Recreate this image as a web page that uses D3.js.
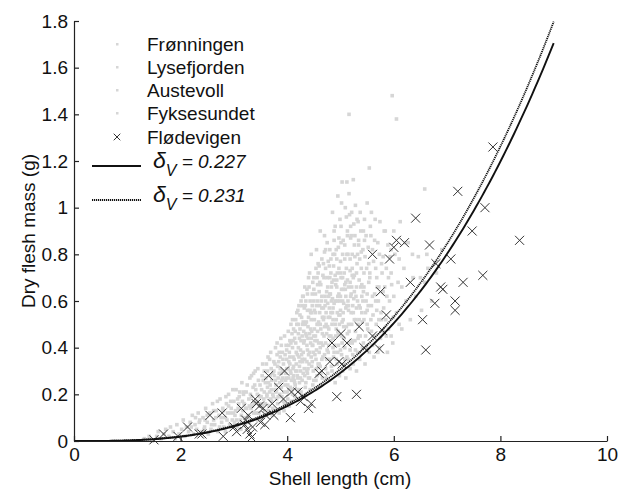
<!DOCTYPE html>
<html>
<head>
<meta charset="utf-8">
<script src="https://cdn.jsdelivr.net/npm/d3@7"></script>
<style>
  body { margin: 0; background: #fff; }
  svg { font-family: "Liberation Sans", Arial, sans-serif; }
</style>
</head>
<body>
<svg></svg>
<script>
var width = 630;
var height = 490;

// shell length (cm), dry flesh mass (g)
var fronningen = [
  [4.12,0.48],[4.22,0.58],[4.3,0.51],[4.38,0.63],[4.44,0.55],[4.5,0.6],[4.56,0.7],[4.6,0.64],[4.65,0.78],[4.68,0.57],
  [4.72,0.74],[4.76,0.66],[4.8,0.82],[4.83,0.6],[4.87,0.75],[4.9,0.92],[4.93,0.69],[4.96,0.83],[5.0,0.72],[5.02,1.02],
  [5.05,0.86],[5.08,0.67],[5.11,0.96],[5.14,0.8],[5.16,1.06],[5.19,0.87],[5.22,0.71],[5.25,0.93],[5.28,1.01],[5.31,0.76],
  [5.34,0.86],[5.37,0.98],[5.4,0.67],[5.42,0.82],[5.45,0.95],[5.48,0.6],[5.52,0.83],[5.55,0.72],[5.58,0.98],[5.61,0.54],
  [5.64,0.86],[5.68,0.7],[5.71,0.6],[5.74,0.94],[5.77,0.52],[5.8,0.79],[5.83,0.66],[5.86,0.45],[5.89,0.84],[5.92,0.6],
  [5.95,0.72],[5.98,0.42],[6.02,0.8],[6.05,0.55],[6.08,0.68],[6.12,0.94],[6.15,0.48],[6.19,0.74],[6.23,0.6],[6.27,0.85],
  [6.31,0.52],[6.36,0.7],[6.41,0.62],[6.46,0.79],[6.52,0.56],[6.58,0.68],[6.64,0.74],[6.71,0.6],[6.8,0.72],[6.9,0.82],
  [5.03,1.11],[5.12,1.11],[5.54,1.17],[5.16,1.40],[5.97,1.48],[6.05,1.38],[6.58,1.08],[4.62,0.9],[4.85,0.98],[5.24,1.12],
  [4.45,0.8],[4.95,1.05],
  [4.75,0.85],[4.82,0.72],[4.88,0.9],[4.93,0.78],[4.99,0.95],[5.04,0.8],[5.09,1.0],[5.13,0.9],[5.18,0.78],[5.21,0.98],
  [5.27,0.88],[5.33,0.94],[5.36,0.78],[5.43,0.9],[5.5,1.02],[5.57,0.88],[5.65,0.95],[5.73,0.8],[5.82,0.9],[6.0,0.9],
  [6.1,0.78],[6.22,0.85],[6.35,0.8],[6.5,0.7],[6.62,0.8],[4.55,0.82],[4.7,0.88],[4.4,0.7],[4.3,0.62],[4.58,0.76]
];
var lysefjorden = [
  [2.84,0.04],[2.93,0.12],[3.01,0.08],[3.07,0.18],[3.13,0.05],[3.18,0.2],[3.24,0.14],[3.29,0.08],[3.33,0.19],[3.37,0.29],
  [3.41,0.17],[3.45,0.09],[3.49,0.24],[3.53,0.15],[3.57,0.3],[3.61,0.11],[3.63,0.23],[3.67,0.35],[3.69,0.18],[3.71,0.26],
  [3.73,0.14],[3.77,0.33],[3.79,0.21],[3.81,0.42],[3.83,0.27],[3.85,0.12],[3.87,0.31],[3.89,0.23],[3.91,0.38],[3.93,0.17],
  [3.95,0.45],[3.97,0.29],[3.99,0.35],[4.01,0.24],[4.03,0.41],[4.04,0.15],[4.06,0.3],[4.07,0.5],[4.09,0.22],[4.11,0.36],
  [4.12,0.28],[4.14,0.44],[4.15,0.19],[4.17,0.33],[4.18,0.55],[4.2,0.27],[4.21,0.4],[4.23,0.32],[4.24,0.48],[4.26,0.21],
  [4.27,0.37],[4.29,0.62],[4.3,0.29],[4.32,0.43],[4.33,0.35],[4.35,0.25],[4.36,0.51],[4.38,0.39],[4.39,0.31],[4.41,0.66],
  [4.42,0.46],[4.43,0.22],[4.45,0.36],[4.46,0.55],[4.47,0.41],[4.49,0.3],[4.5,0.7],[4.51,0.48],[4.52,0.37],[4.54,0.26],
  [4.55,0.58],[4.56,0.43],[4.58,0.33],[4.59,0.51],[4.6,0.75],[4.62,0.4],[4.63,0.29],[4.64,0.6],[4.66,0.46],[4.67,0.36],
  [4.69,0.53],[4.7,0.81],[4.72,0.42],[4.73,0.27],[4.74,0.64],[4.76,0.49],[4.77,0.38],[4.79,0.57],[4.8,0.7],[4.82,0.45],
  [4.83,0.32],[4.85,0.61],[4.86,0.52],[4.88,0.86],[4.89,0.41],[4.91,0.67],[4.92,0.35],[4.94,0.55],[4.95,0.47],[4.97,0.74],
  [4.98,0.6],[5.0,0.39],[5.01,0.92],[5.03,0.51],[5.05,0.65],[5.06,0.44],[5.08,0.78],[5.1,0.57],[5.12,0.36],[5.13,0.69],
  [5.15,0.5],[5.17,0.97],[5.19,0.62],[5.2,0.43],[5.22,0.74],[5.24,0.55],[5.26,0.84],[5.28,0.47],[5.3,0.66],[5.32,0.38],
  [5.35,0.58],[5.38,0.9],[5.41,0.51],[5.44,0.72],[5.47,0.45],[5.5,0.63],
  [4.05,0.43],[4.1,0.52],[4.15,0.47],[4.2,0.56],[4.23,0.44],[4.26,0.6],[4.29,0.5],[4.32,0.57],[4.35,0.46],[4.37,0.65],
  [4.4,0.53],[4.43,0.6],[4.46,0.47],[4.48,0.68],[4.51,0.56],[4.53,0.63],[4.56,0.5],[4.58,0.72],[4.61,0.58],[4.63,0.67],
  [4.66,0.53],[4.68,0.76],[4.71,0.62],[4.73,0.55],[4.75,0.7],[4.78,0.48],[4.8,0.63],[4.82,0.78],[4.85,0.55],[4.87,0.69],
  [4.9,0.5],[4.92,0.82],[4.95,0.62],[4.97,0.54],[5.0,0.77],[5.02,0.65],[5.05,0.52],[5.07,0.72],[5.1,0.62],[5.12,0.8],
  [5.15,0.56],[5.18,0.68],[5.2,0.88],[5.23,0.58],[5.26,0.71],[5.29,0.62],[5.32,0.8],[5.35,0.52],[5.38,0.66],[5.42,0.6],
  [5.46,0.79],[5.5,0.56],[5.55,0.7],[5.6,0.62],[5.66,0.74],[5.72,0.52],[5.8,0.64],[5.9,0.7],[6.0,0.62],[6.15,0.66],
  [4.18,0.5],[4.24,0.54],[4.28,0.58],[4.33,0.66],[4.38,0.56],[4.42,0.72],[4.47,0.58],[4.5,0.65],[4.54,0.74],[4.57,0.6],
  [4.61,0.68],[4.65,0.62],[4.69,0.7],[4.72,0.82],[4.76,0.59],[4.79,0.75],[4.83,0.66],[4.86,0.8],[4.9,0.71],[4.94,0.6],
  [4.97,0.87],[5.01,0.7],[5.04,0.6],[5.08,0.84],[5.11,0.74],[5.15,0.66],[5.19,0.92],[5.22,0.8],[5.26,0.64],[5.3,0.72],
  [5.34,0.84],[5.39,0.74],[5.44,0.66],[5.48,0.88],[5.53,0.76],[5.6,0.82],[5.69,0.66],[5.77,0.76],[5.86,0.74],[5.95,0.82]
];
var austevoll = [
  [1.32,0.01],[1.41,0.02],[1.47,0.0],[1.55,0.02],[1.58,0.04],[1.63,0.01],[1.69,0.03],[1.72,0.05],[1.78,0.02],[1.81,0.06],
  [1.86,0.04],[1.9,0.01],[1.93,0.07],[1.97,0.03],[2.02,0.05],[2.05,0.09],[2.08,0.02],[2.11,0.06],[2.15,0.04],[2.18,0.08],
  [2.22,0.11],[2.24,0.03],[2.27,0.07],[2.3,0.05],[2.33,0.12],[2.36,0.09],[2.39,0.04],[2.42,0.1],[2.45,0.06],[2.47,0.14],
  [2.5,0.08],[2.52,0.03],[2.55,0.12],[2.57,0.05],[2.6,0.16],[2.62,0.09],[2.64,0.07],[2.67,0.13],[2.7,0.04],[2.72,0.11],
  [2.74,0.18],[2.77,0.08],[2.79,0.14],[2.81,0.06],[2.83,0.1],[2.86,0.16],[2.88,0.12],[2.9,0.2],[2.92,0.07],[2.95,0.14],
  [2.97,0.09],[3.0,0.17],[3.02,0.11],[3.04,0.22],[3.06,0.06],[3.08,0.14],[3.1,0.19],[3.12,0.09],[3.15,0.25],[3.17,0.13],
  [3.19,0.16],[3.21,0.07],[3.23,0.21],[3.26,0.11],[3.28,0.18],[3.3,0.27],[3.32,0.14],[3.34,0.09],[3.36,0.23],[3.38,0.16],
  [3.4,0.3],[3.42,0.12],[3.44,0.2],[3.46,0.26],[3.48,0.15],[3.5,0.1],[3.52,0.22],[3.54,0.33],[3.56,0.18],[3.58,0.13],
  [3.6,0.27],[3.62,0.2],[3.64,0.36],[3.66,0.15],[3.68,0.24],[3.7,0.31],[3.72,0.11],[3.74,0.19],[3.76,0.28],[3.78,0.4],
  [3.8,0.22],[3.82,0.16],[3.84,0.34],[3.86,0.25],[3.88,0.44],[3.9,0.19],[3.92,0.3],[3.94,0.13],[3.96,0.37],[3.98,0.27],
  [4.0,0.21],[4.02,0.47],[4.05,0.33],[4.08,0.17],[4.1,0.4],[4.13,0.26],[4.16,0.52],[4.19,0.22],[4.22,0.36],[4.25,0.3],
  [4.28,0.45],[4.31,0.19],[4.34,0.58],[4.37,0.34],[4.4,0.27],[4.44,0.42],[4.48,0.24],
  [2.58,0.07],[2.66,0.1],[2.73,0.06],[2.8,0.13],[2.87,0.09],[2.94,0.17],[2.99,0.12],[3.05,0.09],[3.09,0.16],[3.14,0.11],
  [3.18,0.21],[3.22,0.14],[3.27,0.1],[3.31,0.2],[3.35,0.15],[3.39,0.24],[3.43,0.17],[3.47,0.12],[3.51,0.19],[3.55,0.26],
  [3.59,0.16],[3.63,0.3],[3.67,0.21],[3.71,0.17],[3.75,0.34],[3.79,0.24],[3.83,0.19],[3.87,0.36],[3.91,0.27],[3.95,0.16],
  [3.99,0.39],[4.03,0.22],[4.07,0.42],[4.11,0.31],[4.15,0.24],[2.2,0.06],[2.35,0.08],[2.44,0.05],[2.28,0.1],[2.5,0.11],
  [3.03,0.13],[3.11,0.21],[3.16,0.17],[3.2,0.1],[3.25,0.24],[3.29,0.15],[3.33,0.28],[3.37,0.12],[3.41,0.22],[3.45,0.31],
  [3.49,0.19],[3.53,0.28],[3.57,0.21],[3.61,0.33],[3.65,0.25],[3.69,0.38],[3.73,0.29],[3.77,0.22],[3.81,0.37],[3.85,0.29],
  [3.89,0.41],[3.93,0.33],[3.97,0.26],[2.62,0.13],[2.69,0.17],[2.76,0.1],[2.85,0.19],[2.9,0.15],[2.98,0.22],[2.46,0.09]
];
var fyksesundet = [
  [3.52,0.16],[3.59,0.25],[3.65,0.13],[3.7,0.22],[3.75,0.3],[3.8,0.18],[3.85,0.38],[3.9,0.26],[3.94,0.21],[3.98,0.41],
  [4.02,0.31],[4.04,0.38],[4.06,0.23],[4.09,0.46],[4.11,0.27],[4.13,0.35],[4.16,0.42],[4.18,0.3],[4.21,0.5],[4.23,0.25],
  [4.25,0.39],[4.27,0.53],[4.29,0.34],[4.31,0.47],[4.33,0.28],[4.35,0.6],[4.37,0.41],[4.39,0.49],[4.41,0.33],[4.43,0.56],
  [4.45,0.44],[4.47,0.63],[4.49,0.38],[4.51,0.52],[4.53,0.45],[4.55,0.31],[4.57,0.67],[4.59,0.42],[4.61,0.55],[4.63,0.48],
  [4.65,0.35],[4.67,0.71],[4.69,0.45],[4.71,0.58],[4.73,0.5],[4.75,0.39],[4.77,0.77],[4.78,0.62],[4.8,0.53],[4.82,0.43],
  [4.84,0.68],[4.86,0.57],[4.87,0.36],[4.89,0.8],[4.9,0.6],[4.92,0.48],[4.94,0.72],[4.96,0.41],[4.97,0.63],[4.99,0.54],
  [5.01,0.85],[5.02,0.45],[5.04,0.7],[5.06,0.59],[5.07,0.33],[5.09,0.65],[5.11,0.49],[5.13,0.88],[5.14,0.6],[5.16,0.42],
  [5.18,0.73],[5.2,0.55],[5.21,0.66],[5.23,0.37],[5.25,0.61],[5.27,0.79],[5.29,0.52],[5.31,0.95],[5.33,0.44],[5.35,0.69],
  [5.37,0.57],[5.39,0.81],[5.41,0.4],[5.43,0.64],[5.45,0.86],[5.47,0.55],[5.49,0.74],[5.51,0.48],[5.53,0.68],[5.56,0.92],
  [5.58,0.58],[5.6,0.41],[5.62,0.77],[5.64,0.63],[5.67,0.5],[5.7,0.85],[5.72,0.66],[5.75,0.44],[5.78,0.72],[5.81,0.57],
  [5.84,0.9],[5.87,0.62],[5.9,0.48],[5.93,0.79],[5.96,0.67],[5.99,0.53],
  [3.62,0.19],[3.68,0.28],[3.73,0.2],[3.78,0.26],[3.82,0.32],[3.86,0.2],[3.89,0.29],[3.92,0.35],[3.96,0.24],[3.99,0.31],
  [4.01,0.18],[4.03,0.27],[4.05,0.36],[4.07,0.29],[4.1,0.2],[4.12,0.32],[4.14,0.25],[4.17,0.38],[4.19,0.28],[4.22,0.22],
  [4.24,0.34],[4.26,0.43],[4.28,0.26],[4.3,0.38],[4.32,0.31],[4.34,0.23],[4.36,0.45],[4.38,0.29],[4.4,0.37],[4.42,0.27],
  [4.44,0.48],[4.46,0.32],[4.48,0.41],[4.5,0.26],[4.52,0.43],[4.54,0.35],[4.56,0.28],[4.58,0.5],[4.6,0.38],[4.62,0.32],
  [4.64,0.42],[4.66,0.27],[4.68,0.52],[4.7,0.37],[4.72,0.31],[4.74,0.46],[4.76,0.29],[4.78,0.41],[4.8,0.35],[4.82,0.55],
  [4.84,0.3],[4.86,0.44],[4.88,0.38],[4.9,0.25],[4.92,0.52],[4.94,0.33],[4.96,0.46],[4.98,0.28],[5.0,0.56],[5.02,0.37],
  [5.04,0.3],[5.06,0.49],[5.08,0.4],[5.1,0.27],[5.12,0.58],[5.14,0.35],[5.16,0.47],[5.18,0.31],[5.2,0.63],[5.22,0.42],
  [5.24,0.33],[5.26,0.52],[5.28,0.39],[5.3,0.3],[5.32,0.6],[5.34,0.45],[5.36,0.35],[5.4,0.55],[5.43,0.42],[5.46,0.33],
  [5.5,0.5],[5.54,0.38],[5.58,0.47],[5.63,0.36],[5.68,0.56],[5.73,0.4],[5.8,0.47],[5.88,0.38],[5.95,0.45],[6.1,0.5],
  [4.03,0.34],[4.08,0.26],[4.11,0.43],[4.16,0.3],[4.19,0.37],[4.21,0.46],[4.25,0.27],[4.28,0.35],[4.31,0.42],[4.34,0.5],
  [4.37,0.3],[4.39,0.44],[4.42,0.38],[4.45,0.52],[4.47,0.34],[4.5,0.45],[4.53,0.55],[4.55,0.39],[4.57,0.47],[4.6,0.33],
  [4.62,0.5],[4.65,0.57],[4.67,0.41],[4.7,0.49],[4.72,0.6],[4.74,0.35],[4.77,0.53],[4.79,0.45],[4.81,0.63],[4.84,0.5],
  [4.86,0.4],[4.88,0.59],[4.91,0.45],[4.93,0.66],[4.95,0.38],[4.98,0.5],[5.0,0.62],[5.03,0.42],[5.05,0.55],[5.08,0.35],
  [5.1,0.68],[5.13,0.46],[5.15,0.58],[5.18,0.39],[5.21,0.5],[5.24,0.7],[5.27,0.43],[5.3,0.57],[5.33,0.5],[5.37,0.45],
  [5.4,0.62],[5.44,0.52],[5.48,0.4],[5.52,0.58],[5.57,0.52],[5.62,0.45],[5.66,0.6],[5.7,0.38],[5.76,0.55],[5.85,0.52]
];
var flodevigen = [
  [1.5,0.005],[1.68,0.03],[1.95,0.02],[2.13,0.06],[2.35,0.03],[2.4,0.03],[2.55,0.11],[2.78,0.12],[2.8,0.02],[3.05,0.04],
  [3.0,0.06],[3.14,0.14],[3.2,0.07],[3.22,0.09],[3.25,0.05],[3.27,0.11],[3.3,0.03],[3.33,0.015],[3.35,0.06],[3.4,0.18],
  [3.42,0.16],[3.48,0.15],[3.5,0.08],[3.55,0.14],[3.58,0.07],[3.6,0.11],[3.65,0.28],[3.72,0.16],[3.75,0.11],[3.84,0.23],
  [3.93,0.18],[3.95,0.30],[4.06,0.10],[4.08,0.21],[4.2,0.21],[4.25,0.17],[4.3,0.19],[4.4,0.14],[4.45,0.16],[4.6,0.29],
  [4.65,0.30],[4.8,0.34],[4.84,0.42],[4.93,0.19],[4.97,0.34],[5.01,0.46],[5.03,0.33],[5.12,0.42],[5.3,0.2],[5.35,0.49],
  [5.44,0.40],[5.6,0.45],[5.6,0.80],[5.73,0.395],[5.75,0.64],[5.78,0.475],[5.86,0.54],[5.92,0.78],[6.0,0.83],[6.05,0.86],
  [6.2,0.85],[6.31,0.68],[6.41,0.955],[6.54,0.52],[6.6,0.39],[6.67,0.84],[6.77,0.59],[6.79,0.76],[6.88,0.66],[6.92,0.65],
  [7.07,0.78],[7.15,0.60],[7.15,0.56],[7.2,1.07],[7.3,0.68],[7.47,0.90],[7.67,0.71],[7.71,1.0],[7.86,1.26],[8.36,0.86]
];

var populations = ["Frønningen", "Lysefjorden", "Austevoll", "Fyksesundet"];
var deltaV = [0.227, 0.231];
var dV = 0.2; // g/cm^3
var xTicks = [0, 2, 4, 6, 8, 10];
var yTicks = [0, 0.2, 0.4, 0.6, 0.8, 1, 1.2, 1.4, 1.6, 1.8];
var yTickLabels = ["0", "0.2", "0.4", "0.6", "0.8", "1", "1.2", "1.4", "1.6", "1.8"];

var fontSize = 19;
var xScale = d3.scaleLinear().domain([0, 10]).range([74, 607]);
var yScale = d3.scaleLinear().domain([0, 1.8]).range([441, 21]);

var svg = d3.select("svg").attr("width", width).attr("height", height);

// gray clouds
var grey = [].concat(fronningen, lysefjorden, austevoll, fyksesundet);
svg.append("g")
  .selectAll("rect")
  .data(grey)
  .enter()
  .append("rect")
  .attr("x", (d) => xScale(d[0]) - 1.8)
  .attr("y", (d) => yScale(d[1]) - 1.8)
  .attr("width", 3.6)
  .attr("height", 3.6)
  .attr("fill", "#d6d6d6");

// Flødevigen crosses
var cross = d3.symbol().type(d3.symbolX).size(55);
svg.append("g")
  .selectAll("path")
  .data(flodevigen)
  .enter()
  .append("path")
  .attr("d", cross)
  .attr("transform", (d) => `translate(${xScale(d[0])},${yScale(d[1])})`)
  .attr("fill", "none")
  .attr("stroke", "#333")
  .attr("stroke-width", 1);

// model curves W = dV * (deltaV * L)^3
var lengths = d3.range(0, 9.001, 0.05);
var line = d3.line().x((d) => xScale(d[0])).y((d) => yScale(d[1]));
var curveStyles = [
  { dash: null, width: 1.9, color: "#111" },
  { dash: "1.2,0.8", width: 1.8, color: "#111" }
];
deltaV.forEach(function (dv, i) {
  svg.append("path")
    .attr("d", line(lengths.map((L) => [L, dV * Math.pow(dv * L, 3)])))
    .attr("fill", "none")
    .attr("stroke", curveStyles[i].color)
    .attr("stroke-width", curveStyles[i].width)
    .attr("stroke-dasharray", curveStyles[i].dash);
});

// axes
var xAxis = d3.axisBottom(xScale).tickValues(xTicks).tickSizeInner(-5).tickSizeOuter(0).tickPadding(7);
var yAxis = d3.axisLeft(yScale).tickValues(yTicks).tickFormat((d, i) => yTickLabels[i])
  .tickSizeInner(-5).tickSizeOuter(0).tickPadding(6);

var gx = svg.append("g").attr("transform", "translate(0,441)").call(xAxis);
var gy = svg.append("g").attr("transform", "translate(74,0)").call(yAxis);
[gx, gy].forEach(function (g) {
  g.selectAll("path, line").attr("stroke", "#222").attr("stroke-width", 1.2);
  g.selectAll("text").attr("font-size", fontSize).attr("fill", "#111").attr("font-family", "Liberation Sans, Arial, sans-serif");
});

svg.append("text")
  .attr("x", 340)
  .attr("y", 485)
  .attr("text-anchor", "middle")
  .attr("font-size", fontSize)
  .attr("fill", "#111")
  .text("Shell length (cm)");

svg.append("text")
  .attr("transform", "translate(35,231) rotate(-90)")
  .attr("text-anchor", "middle")
  .attr("font-size", fontSize)
  .attr("fill", "#111")
  .text("Dry flesh mass (g)");

// legend
var legend = svg.append("g");
var legendY = [44, 67, 90, 113, 137];
populations.forEach(function (name, i) {
  legend.append("rect")
    .attr("x", 116).attr("y", legendY[i] - 1).attr("width", 2.5).attr("height", 2.5)
    .attr("fill", "#d6d6d6");
  legend.append("text")
    .attr("x", 147).attr("y", legendY[i] + 7)
    .attr("font-size", fontSize).attr("fill", "#111")
    .text(name);
});
legend.append("path")
  .attr("d", d3.symbol().type(d3.symbolX).size(30))
  .attr("transform", `translate(117,${legendY[4]})`)
  .attr("fill", "none").attr("stroke", "#333");
legend.append("text")
  .attr("x", 147).attr("y", legendY[4] + 7)
  .attr("font-size", fontSize).attr("fill", "#111")
  .text("Flødevigen");

var lineY = [166, 200];
deltaV.forEach(function (dv, i) {
  legend.append("line")
    .attr("x1", 92).attr("x2", 141).attr("y1", lineY[i]).attr("y2", lineY[i])
    .attr("stroke", curveStyles[i].color)
    .attr("stroke-width", curveStyles[i].width)
    .attr("stroke-dasharray", curveStyles[i].dash);
  var t = legend.append("text")
    .attr("x", 153).attr("y", lineY[i] + 2)
    .attr("font-size", fontSize).attr("fill", "#111").attr("font-style", "italic");
  t.append("tspan").attr("font-size", 23).text("δ");
  t.append("tspan").attr("dy", 8).attr("font-size", 16).text("V");
  t.append("tspan").attr("dy", -8).text(" = " + dv.toFixed(3));
});
</script>
</body>
</html>
